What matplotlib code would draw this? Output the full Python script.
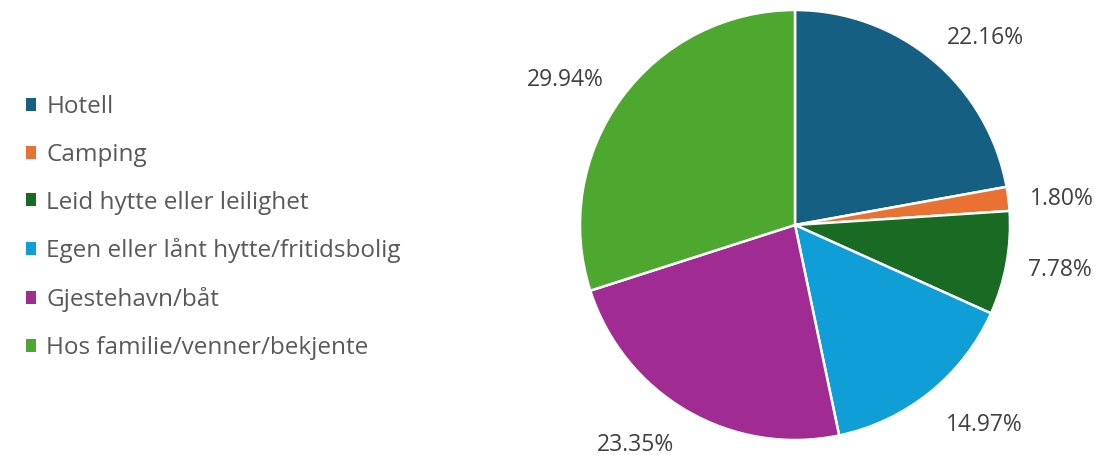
import numpy as np
import matplotlib.pyplot as plt
from matplotlib.patches import Patch

# ---- data ----
categories = ["Hotell", "Camping", "Leid hytte eller leilighet",
              "Egen eller lånt hytte/fritidsbolig", "Gjestehavn/båt",
              "Hos familie/venner/bekjente"]
shares = [22.16, 1.80, 7.78, 14.97, 23.35, 29.94]
colors = ["#156082", "#E97132", "#196B24", "#0F9ED5", "#A02B93", "#4EA72E"]

plt.rcParams['font.family'] = ['Open Sans', 'DejaVu Sans']

W, H = 1115, 455
fig = plt.figure(figsize=(W / 100, H / 100), dpi=100)

# pie axes: centre ~(795, 225) px, radius ~215 px
cx, cy, rad = 795, 225, 215
ax = fig.add_axes([(cx - rad) / W, (H - cy - rad) / H, 2 * rad / W, 2 * rad / H])
wedges, _ = ax.pie(shares, colors=colors, startangle=90, counterclock=False,
                   wedgeprops=dict(edgecolor="white", linewidth=1.8))
ax.set_xlim(-1, 1)
ax.set_ylim(-1, 1)
ax.set_aspect("equal")
ax.axis("off")

# outside-end labels (Excel style)
for w, v in zip(wedges, shares):
    ang = np.deg2rad((w.theta1 + w.theta2) / 2)
    s = np.sin(ang)
    if abs(s) < 0.3:
        r, va = 1.1, "center_baseline"
    elif s > 0:
        r, va = 1.1, "baseline"
    else:
        r, va = 1.12, "top"
    x, y = r * np.cos(ang), r * s
    ha = "left" if x > 0 else "right"
    ax.text(x, y, f"{v:.2f}%", ha=ha, va=va, fontsize=16.5, color="#404040",
            clip_on=False)

handles = [Patch(facecolor=c, edgecolor="none") for c in colors]
fig.legend(handles, categories, loc="center left", bbox_to_anchor=(0.012, 0.50),
           frameon=False, fontsize=17.5, labelcolor="#595959", borderpad=0,
           handlelength=0.45, handleheight=0.45, handletextpad=0.4,
           labelspacing=0.98)

fig.savefig("out.png", dpi=100, facecolor="white")
